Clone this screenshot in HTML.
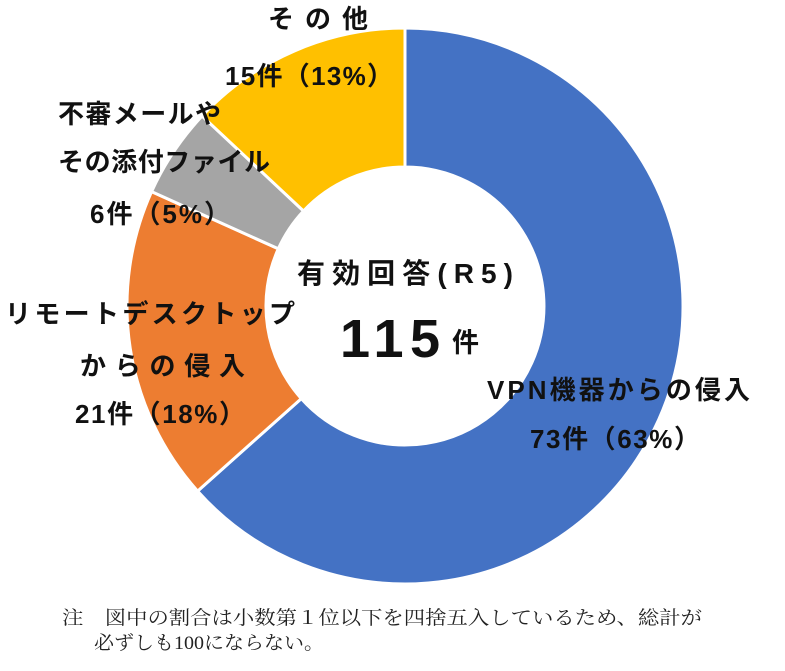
<!DOCTYPE html>
<html><head><meta charset="utf-8"><style>
body{margin:0;background:#fff;}
svg text{font-family:"Liberation Sans","Noto Sans CJK JP",sans-serif;font-weight:bold;fill:#111;}
.n{font-family:"Liberation Serif","Noto Serif CJK SC",serif;font-weight:normal;font-size:19px;fill:#222;}
</style></head><body>
<svg width="785" height="666" viewBox="0 0 785 666" xmlns="http://www.w3.org/2000/svg">
<g stroke="#fff" stroke-width="3" stroke-linejoin="round">
<path d="M405 28 A278 278 0 1 1 197.6 491.1 L301.3 398.6 A139 139 0 1 0 405 167 Z" fill="#4472C4"/>
<path d="M197.6 491.1 A278 278 0 0 1 151.6 191.6 L278.3 248.8 A139 139 0 0 0 301.3 398.6 Z" fill="#ED7D31"/>
<path d="M151.6 191.6 A278 278 0 0 1 202.1 116.0 L303.5 211.0 A139 139 0 0 0 278.3 248.8 Z" fill="#A5A5A5"/>
<path d="M202.1 116.0 A278 278 0 0 1 405 28 L405 167 A139 139 0 0 0 303.5 211.0 Z" fill="#FFC000"/>
</g>
<g font-size="26" lengthAdjust="spacingAndGlyphs">
<text x="268" y="28" textLength="100">その他</text>
<text x="225" y="85" textLength="168">15件（13%）</text>
<text x="58" y="123" textLength="163">不審メールや</text>
<text x="58" y="171" textLength="212">その添付ファイル</text>
<text x="90" y="223" textLength="140">6件（5%）</text>
<text x="5" y="323" textLength="290">リモートデスクトップ</text>
<text x="80" y="375" textLength="165">からの侵入</text>
<text x="75" y="423" textLength="170">21件（18%）</text>
<text x="487" y="399" textLength="263">VPN機器からの侵入</text>
<text x="530" y="448" textLength="170">73件（63%）</text>
<text x="297" y="283" textLength="216" font-size="28">有効回答(R5)</text>
<text x="340" y="357" textLength="100" font-size="54">115</text>
<text x="452" y="352" font-size="27">件</text>
</g>
<text class="n" x="62" y="624" textLength="640" lengthAdjust="spacingAndGlyphs">注　図中の割合は小数第１位以下を四捨五入しているため、総計が</text>
<text class="n" x="94" y="649" textLength="230" lengthAdjust="spacingAndGlyphs">必ずしも100にならない。</text>
</svg>
</body></html>
